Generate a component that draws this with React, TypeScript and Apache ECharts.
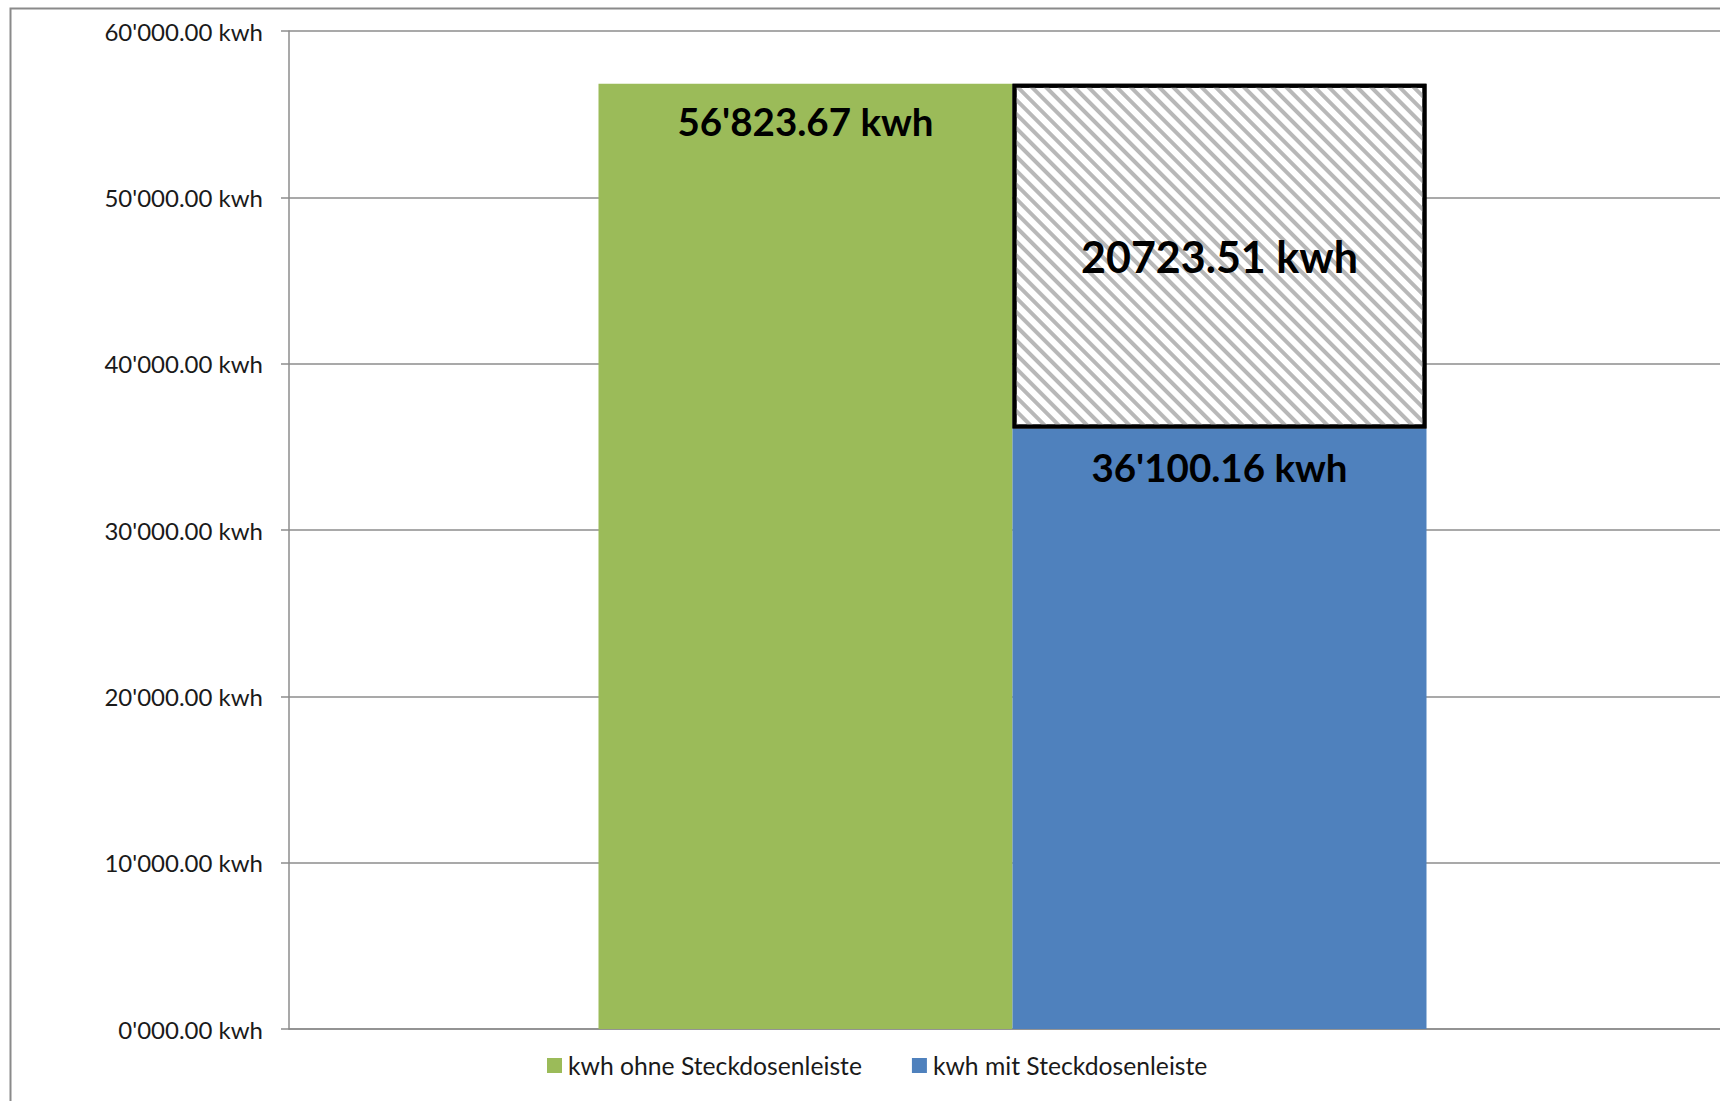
import React, { useEffect, useRef } from "react";
import * as echarts from "echarts";

const categories = [""];
const legendNames = ["kwh ohne Steckdosenleiste", "kwh mit Steckdosenleiste"];
const ohneValues = [56823.67];
const mitValues = [36100.16];
const savingValues = [20723.51];
const yTicks = { min: 0, max: 60000, interval: 10000 };

const FONT = "Lato, 'Open Sans', sans-serif";

function fmtApostrophe(v: number): string {
  const fixed = v.toFixed(2);
  const [intPart, dec] = fixed.split(".");
  const n = parseInt(intPart, 10);
  const thousands = Math.floor(n / 1000);
  const rest = String(n % 1000).padStart(3, "0");
  return `${thousands}'${rest}.${dec} kwh`;
}

export default function App() {
  const ref = useRef<HTMLDivElement>(null);
  useEffect(() => {
    if (!ref.current) return;
    const chart = echarts.init(ref.current, undefined, { renderer: "svg" });
    const labelBase = {
      show: true,
      color: "#000",
      fontFamily: FONT,
      fontWeight: "bold" as const,
      fontSize: 38.5,
    };
    chart.setOption({
      animation: false,
      backgroundColor: "#fff",
      grid: { left: 289, top: 31, bottom: 72, right: 0 },
      graphic: [
        {
          type: "rect",
          shape: { x: 10.5, y: 8.5, width: 1800, height: 1200 },
          style: { fill: "none", stroke: "#8a8a8a", lineWidth: 2 },
          silent: true,
          z: -1,
        },
      ],
      legend: {
        data: legendNames,
        left: 547,
        top: 1053,
        padding: 0,
        icon: "rect",
        itemWidth: 15,
        itemHeight: 15,
        itemGap: 50,
        textStyle: { fontFamily: FONT, fontSize: 24.7, color: "#1a1a1a", padding: [0, 0, 0, 1] },
      },
      xAxis: {
        type: "category",
        data: categories,
        axisLine: { show: true, lineStyle: { color: "#8c8c8c", width: 1.5 } },
        axisTick: { show: false },
        axisLabel: { show: false },
      },
      yAxis: {
        type: "value",
        min: yTicks.min,
        max: yTicks.max,
        interval: yTicks.interval,
        axisLine: { show: true, lineStyle: { color: "#8c8c8c", width: 1.5 } },
        axisTick: { show: true, length: 8, lineStyle: { color: "#8c8c8c", width: 1.5 } },
        splitLine: { show: true, lineStyle: { color: "#8c8c8c", width: 1.5 } },
        axisLabel: {
          margin: 26,
          fontFamily: FONT,
          fontSize: 24,
          color: "#1a1a1a",
          verticalAlign: "middle",
          padding: [0, 0, 5, 0],
          formatter: (v: number) => fmtApostrophe(v),
        },
      },
      series: [
        {
          name: legendNames[0],
          type: "bar",
          stack: "ohne",
          data: ohneValues,
          barWidth: 414,
          barGap: "0%",
          itemStyle: { color: "#9BBB59" },
          label: {
            ...labelBase,
            position: "insideTop",
            distance: 18,
            formatter: (p: any) => fmtApostrophe(p.value),
          },
        },
        {
          name: legendNames[1],
          type: "bar",
          stack: "mit",
          data: mitValues,
          barWidth: 414,
          barGap: "0%",
          itemStyle: { color: "#4F81BD" },
          label: {
            ...labelBase,
            position: "insideTop",
            distance: 19,
            formatter: (p: any) => fmtApostrophe(p.value),
          },
        },
        {
          name: "Einsparung",
          type: "bar",
          stack: "mit",
          data: savingValues,
          barWidth: 414,
          barGap: "0%",
          itemStyle: {
            color: "#ffffff",
            borderColor: "#000000",
            borderWidth: 4,
            decal: {
              symbol: "rect",
              symbolSize: 1,
              dashArrayX: [1, 0],
              dashArrayY: [4, 6],
              rotation: Math.PI / 4,
              color: "#b8b8b8",
            },
          },
          label: {
            ...labelBase,
            fontSize: 43,
            position: "inside",
            formatter: (p: any) => `${p.value.toFixed(2)} kwh`,
          },
          z: 3,
        },
      ],
    });
    return () => chart.dispose();
  }, []);
  return (
    <div
      ref={ref}
      style={{ position: "fixed", left: 0, top: 0, width: 1736, height: 1101 }}
    />
  );
}
